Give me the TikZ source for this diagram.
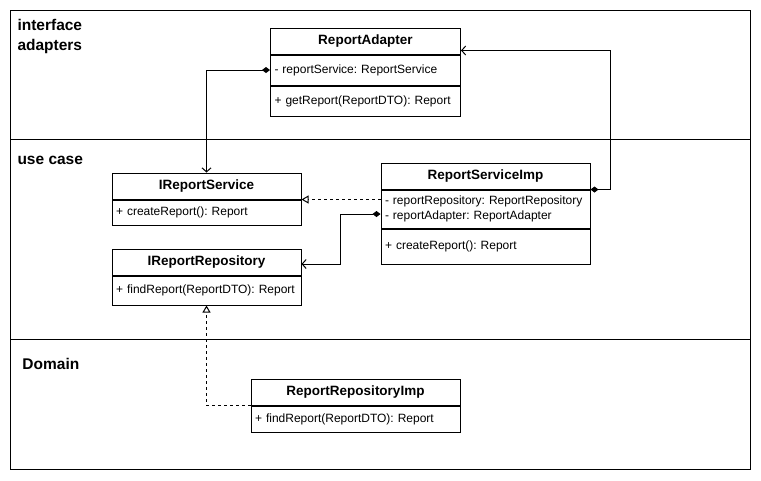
\documentclass[tikz,border=0pt]{standalone}
\usepackage{fontspec}
\setmainfont{Liberation Sans}
\usetikzlibrary{arrows.meta,calc}
\frenchspacing
\begin{document}
\begin{tikzpicture}[x=1pt,y=-1pt,line width=1pt,
  lane/.style={draw,anchor=north west,minimum width=740,inner sep=0},
  lanelabel/.style={anchor=base west,inner sep=0,font=\fontsize{15.5}{20}\selectfont\bfseries,align=left},
  hdr/.style={draw,minimum height=26,inner sep=0,font=\fontsize{13.5}{16}\selectfont\bfseries},
  comp/.style={draw,anchor=north,inner sep=4,align=left,font=\fontsize{12}{15}\selectfont},
  dia/.style={{Diamond[length=8pt,width=6pt]}-{Straight Barb[length=4pt,width=9pt]}},
  realize/.style={dashed,-{Triangle[open,length=7pt,width=8pt,fill=white]}}
]
\useasboundingbox (0,0) rectangle (761,480);
\fill[white] (0,0) rectangle (761,480);
% lanes
\node[lane,minimum height=129] (l1) at (10,10) {};
\node[lane,minimum height=200] (l2) at (10,139) {};
\node[lane,minimum height=130] (l3) at (10,339) {};
\node[lanelabel] (t1) at (17,30) {interface};
\node[lanelabel] (t1b) at (17,50) {adapters};
\node[lanelabel] (t2) at (17,164.5) {use case};
\node[lanelabel] (t3) at (22,369.5) {Domain};
% ReportAdapter
\node[hdr,minimum width=190] (ra) at (365.5,41) {ReportAdapter};
\node[comp,text width=182,minimum height=30] (raA) at (ra.south) {- reportService: ReportService};
\node[comp,text width=182,minimum height=30] (raM) at (raA.south) {+ getReport(ReportDTO): Report};
% IReportService
\node[hdr,minimum width=189] (irs) at (206.5,186) {IReportService};
\node[comp,text width=181,minimum height=25] (irsM) at (irs.south) {+ createReport(): Report};
% IReportRepository
\node[hdr,minimum width=189] (irr) at (206.5,262) {IReportRepository};
\node[comp,text width=181,minimum height=29] (irrM) at (irr.south) {+ findReport(ReportDTO): Report};
% ReportServiceImp
\node[hdr,minimum width=209] (rsi) at (485.5,176) {ReportServiceImp};
\node[comp,text width=201,minimum height=38] (rsiA) at (rsi.south) {- reportRepository: ReportRepository\\- reportAdapter: ReportAdapter};
\node[comp,text width=201,minimum height=35] (rsiM) at (rsiA.south) {+ createReport(): Report};
% ReportRepositoryImp
\node[hdr,minimum width=209] (rri) at (355.5,392) {ReportRepositoryImp};
\node[comp,text width=201,minimum height=26] (rriM) at (rri.south) {+ findReport(ReportDTO): Report};
% connectors
\draw[dia] (raA.west) -| (irs.north);
\draw[dia] (rsi.south east) -- ++(20,0) |- ($(ra.south east)+(0,-4)$);
\draw[realize] (rsiA.west |- irs.south east) -- (irs.south east);
\draw[dia] ($(rsiA.west)+(0,5)$) -- ++(-40,0) |- ($(irr.east)+(0,2)$);
\draw[realize] (rri.south west) -| (irrM.south);
\end{tikzpicture}
\end{document}
